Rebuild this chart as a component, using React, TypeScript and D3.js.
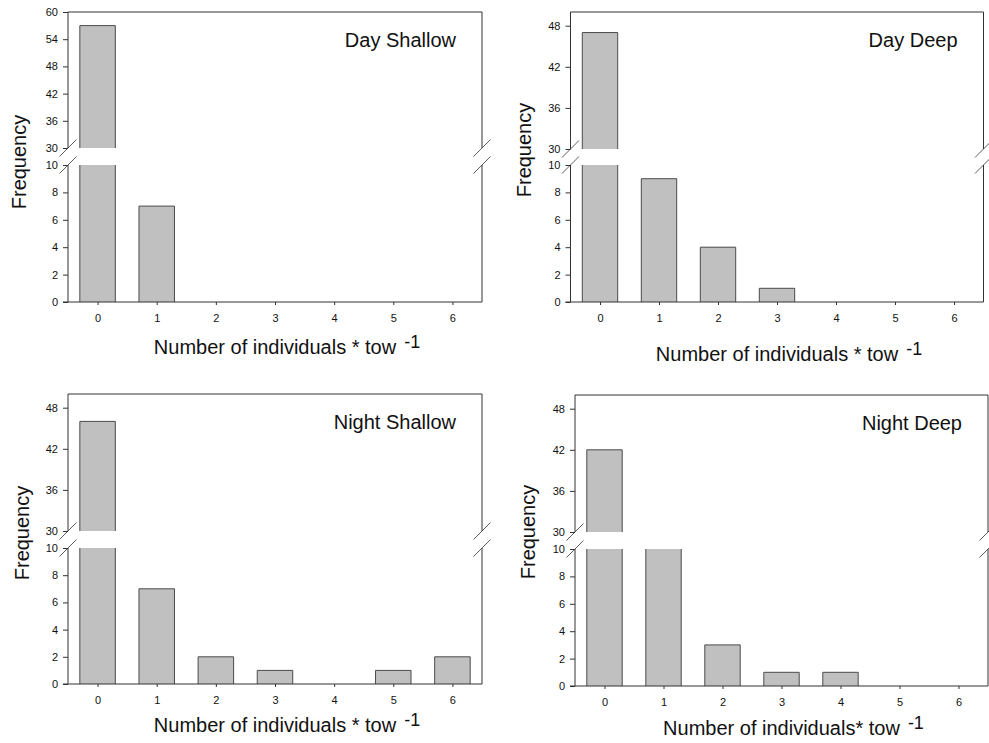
import React, { useEffect, useRef } from "react";
import * as d3 from "d3";

const categories = [0, 1, 2, 3, 4, 5, 6];
const dayShallow = [57, 7, 0, 0, 0, 0, 0];
const dayDeep = [47, 9, 4, 1, 0, 0, 0];
const nightShallow = [46, 7, 2, 1, 0, 1, 2];
const nightDeep = [42, 13, 3, 1, 1, 0, 0];
const lowerTicks = [0, 2, 4, 6, 8, 10];
const upperTicksWide = [30, 36, 42, 48, 54, 60];
const upperTicks = [30, 36, 42, 48];
const titles = ["Day Shallow", "Day Deep", "Night Shallow", "Night Deep"];
const xLabels = [
  "Number of individuals * tow",
  "Number of individuals * tow",
  "Number of individuals * tow",
  "Number of individuals* tow",
];
const yLabel = "Frequency";
const superscript = "-1";

const FONT = "'Liberation Sans', Arial, Helvetica, sans-serif";
const AXIS = "#333";
const BAR_FILL = "#c0c0c0";
const BAR_STROKE = "#4a4a4a";

type Geo = {
  left: number; right: number; top: number; bottom: number;
  breakHigh: number; breakLow: number;
  xLabelBase: number; yLabelX: number; yLabelY: number;
};

function Panel(props: {
  values: number[]; title: string; xLabel: string; upperMax: number;
  uTicks: number[]; geo: Geo;
}) {
  const { values, title, xLabel, upperMax, uTicks, geo } = props;
  const { left, right, top, bottom, breakHigh, breakLow } = geo;
  const x = d3.scaleLinear().domain([-0.5, 6.5]).range([left, right]);
  const yLow = d3.scaleLinear().domain([0, 10]).range([bottom, breakLow]);
  const yUp = d3.scaleLinear().domain([30, upperMax]).range([breakHigh, top]);
  const xRef = useRef<SVGGElement>(null);
  const yLowRef = useRef<SVGGElement>(null);
  const yUpRef = useRef<SVGGElement>(null);

  useEffect(() => {
    const styleAxis = (g: any) => {
      g.select(".domain").remove();
      g.selectAll("line").attr("stroke", AXIS);
      g.selectAll("text").attr("fill", "#111").style("font-family", FONT).style("font-size", "11px");
    };
    d3.select(xRef.current!)
      .call(d3.axisBottom(x).tickValues(categories).tickSize(3).tickPadding(9).tickFormat(d3.format("d")) as any)
      .call(styleAxis);
    d3.select(yLowRef.current!)
      .call(d3.axisLeft(yLow).tickValues(lowerTicks).tickSize(5).tickPadding(5) as any)
      .call(styleAxis);
    d3.select(yUpRef.current!)
      .call(d3.axisLeft(yUp).tickValues(uTicks).tickSize(5).tickPadding(5) as any)
      .call(styleAxis);
  });

  const bw = x(0.3) - x(0);
  const brk = 8.5;
  const breakMarks = [left, right].flatMap((bx) =>
    [breakHigh, breakLow].map((by) => ({ x1: bx - brk, y1: by + brk, x2: bx + brk, y2: by - brk }))
  );
  const cx = (left + right) / 2;

  return (
    <g>
      {/* bars */}
      {values.map((v, i) => {
        if (v <= 0) return null;
        const xc = x(categories[i]);
        const x0 = xc - bw, x1 = xc + bw;
        const lowTop = yLow(Math.min(v, 10));
        const parts: any[] = [];
        parts.push(
          <rect key="lf" x={x0} y={lowTop} width={x1 - x0} height={yLow(0) - lowTop} fill={BAR_FILL} />,
          <line key="ll" x1={x0} x2={x0} y1={lowTop} y2={yLow(0)} stroke={BAR_STROKE} />,
          <line key="lr" x1={x1} x2={x1} y1={lowTop} y2={yLow(0)} stroke={BAR_STROKE} />
        );
        if (v < 10) {
          parts.push(<line key="lt" x1={x0} x2={x1} y1={lowTop} y2={lowTop} stroke={BAR_STROKE} />);
        }
        if (v > 30) {
          const ut = yUp(v);
          parts.push(
            <rect key="uf" x={x0} y={ut} width={x1 - x0} height={yUp(30) - ut} fill={BAR_FILL} />,
            <line key="ul" x1={x0} x2={x0} y1={ut} y2={yUp(30)} stroke={BAR_STROKE} />,
            <line key="ur" x1={x1} x2={x1} y1={ut} y2={yUp(30)} stroke={BAR_STROKE} />,
            <line key="ut" x1={x0} x2={x1} y1={ut} y2={ut} stroke={BAR_STROKE} />
          );
        }
        return <g key={i}>{parts}</g>;
      })}
      {/* frame */}
      <line x1={left} x2={right} y1={top} y2={top} stroke={AXIS} />
      <line x1={left - 5} x2={right} y1={bottom} y2={bottom} stroke={AXIS} />
      {[left, right].map((bx, i) => (
        <g key={i}>
          <line x1={bx} x2={bx} y1={top} y2={breakHigh} stroke={AXIS} />
          <line x1={bx} x2={bx} y1={breakLow} y2={bottom} stroke={AXIS} />
        </g>
      ))}
      {breakMarks.map((m, i) => (
        <line key={i} {...m} stroke={AXIS} strokeWidth={0.8} />
      ))}
      <g ref={xRef} transform={`translate(0,${bottom})`} />
      <g ref={yLowRef} transform={`translate(${left},0)`} />
      <g ref={yUpRef} transform={`translate(${left},0)`} />
      <text x={right - 26} y={top + 35} textAnchor="end" fontSize={20} fontFamily={FONT} fill="#111">
        {title}
      </text>
      <text x={cx} y={geo.xLabelBase} textAnchor="middle" fontSize={20} fontFamily={FONT} fill="#111">
        {xLabel}
      </text>
      <XSup cx={cx} base={geo.xLabelBase} label={xLabel} />
      <text
        transform={`translate(${geo.yLabelX},${geo.yLabelY}) rotate(-90)`}
        textAnchor="middle" fontSize={20} fontFamily={FONT} fill="#111"
      >
        {yLabel}
      </text>
    </g>
  );
}

function XSup(props: { cx: number; base: number; label: string }) {
  const ref = useRef<SVGTextElement>(null);
  const [w, setW] = React.useState(0);
  useEffect(() => {
    const canvas = document.createElement("canvas");
    const ctx = canvas.getContext("2d")!;
    ctx.font = `20px ${FONT}`;
    setW(ctx.measureText(props.label).width);
  }, [props.label]);
  return (
    <text ref={ref} x={props.cx + w / 2 + 8} y={props.base - 6} fontSize={18} fontFamily={FONT} fill="#111">
      {superscript}
    </text>
  );
}

const geos: Geo[] = [
  { left: 68, right: 482, top: 12, bottom: 302, breakHigh: 148, breakLow: 165, xLabelBase: 354, yLabelX: 26, yLabelY: 162 },
  { left: 570.5, right: 983.5, top: 12, bottom: 302, breakHigh: 149, breakLow: 165, xLabelBase: 361, yLabelX: 531, yLabelY: 150 },
  { left: 68, right: 482, top: 394, bottom: 684, breakHigh: 531, breakLow: 548, xLabelBase: 732, yLabelX: 29, yLabelY: 533 },
  { left: 575, right: 988, top: 395, bottom: 686, breakHigh: 532, breakLow: 549, xLabelBase: 735, yLabelX: 535, yLabelY: 532 },
];

export default function App() {
  const series = [dayShallow, dayDeep, nightShallow, nightDeep];
  return (
    <svg
      width={989}
      height={743}
      style={{ position: "absolute", left: 0, top: 0, background: "#fff" }}
    >
      <rect width={989} height={743} fill="#fff" />
      {series.map((vals, i) => (
        <Panel
          key={i}
          values={vals}
          title={titles[i]}
          xLabel={xLabels[i]}
          upperMax={i === 0 ? 60 : 50}
          uTicks={i === 0 ? upperTicksWide : upperTicks}
          geo={geos[i]}
        />
      ))}
    </svg>
  );
}
